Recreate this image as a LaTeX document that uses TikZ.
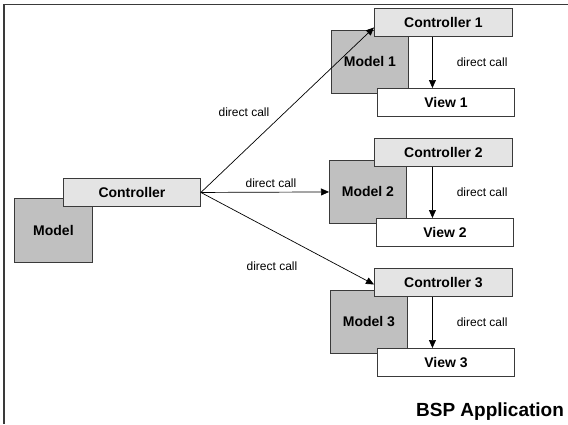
\documentclass[tikz,border=0pt]{standalone}
\usepackage{fontspec}
\setmainfont{Liberation Sans}
\usetikzlibrary{arrows.meta, positioning}

\definecolor{ctrlgray}{HTML}{E4E4E4}
\definecolor{modelgray}{HTML}{C0C0C0}
\definecolor{edgegray}{HTML}{3A3A3A}

\begin{document}
\begin{tikzpicture}[
  x=1pt, y=-1pt,
  box/.style={rectangle, draw=edgegray, line width=0.9pt, inner sep=0pt, anchor=north west, font=\fontsize{14}{16}\selectfont\bfseries},
  ctrlbox/.style={box, fill=ctrlgray, minimum width=138pt, minimum height=28pt},
  modelbox/.style={box, fill=modelgray, minimum width=77pt, minimum height=63pt},
  viewbox/.style={box, fill=white, minimum width=137pt, minimum height=28pt},
  calltext/.style={font=\fontsize{12}{14}\selectfont, inner sep=0pt},
  arrow/.style={-{Triangle[length=8pt, width=7pt]}, line width=0.7pt}
]
  \useasboundingbox (0,0) rectangle (568,424);
  % Frame
  \draw[edgegray, line width=1.3pt] (568,4.7) -- (4,4.7) -- (4,424);
  % Application side
  \node[modelbox, minimum width=78pt, minimum height=64pt] (model) at (14,198) {Model};
  \node[ctrlbox, minimum width=137pt] (ctrl) at (63,178) {Controller};
  % Group 1
  \node[modelbox] (modelA) at (331,30) {Model 1};
  \node[ctrlbox] (ctrlA) at (374,8) {Controller 1};
  \node[viewbox] (viewA) at (377,88) {View 1};
  % Group 2
  \node[modelbox] (modelB) at (329,160) {Model 2};
  \node[ctrlbox] (ctrlB) at (374,138) {Controller 2};
  \node[viewbox] (viewB) at (376,218) {View 2};
  % Group 3
  \node[modelbox] (modelC) at (330,290) {Model 3};
  \node[ctrlbox] (ctrlC) at (374,268) {Controller 3};
  \node[viewbox] (viewC) at (377,348) {View 3};
  % Calls inside the groups
  \draw[arrow] ([xshift=-11pt]ctrlA.south) -- ([xshift=-11pt]ctrlA.south |- viewA.north)
    node[calltext, midway, right=24pt] (callA) {direct call};
  \draw[arrow] ([xshift=-11pt]ctrlB.south) -- ([xshift=-11pt]ctrlB.south |- viewB.north)
    node[calltext, midway, right=24pt] (callB) {direct call};
  \draw[arrow] ([xshift=-11pt]ctrlC.south) -- ([xshift=-11pt]ctrlC.south |- viewC.north)
    node[calltext, midway, right=24pt] (callC) {direct call};
  % Calls from the controller
  \draw[arrow] (ctrl.east) -- ([yshift=-5pt]ctrlA.west);
  \draw[arrow] (ctrl.east) -- (modelB.west);
  \draw[arrow] (ctrl.east) -- ([yshift=-2pt]ctrlC.west);
  \node[calltext] (callTop) at (244,112) {direct call};
  \node[calltext] (callMid) at (271,183) {direct call};
  \node[calltext] (callLow) at (272,266) {direct call};
  % Title
  \node[font=\fontsize{19}{22}\selectfont\bfseries, anchor=base, inner sep=0pt] (title) at (490,416) {BSP Application};
\end{tikzpicture}
\end{document}
